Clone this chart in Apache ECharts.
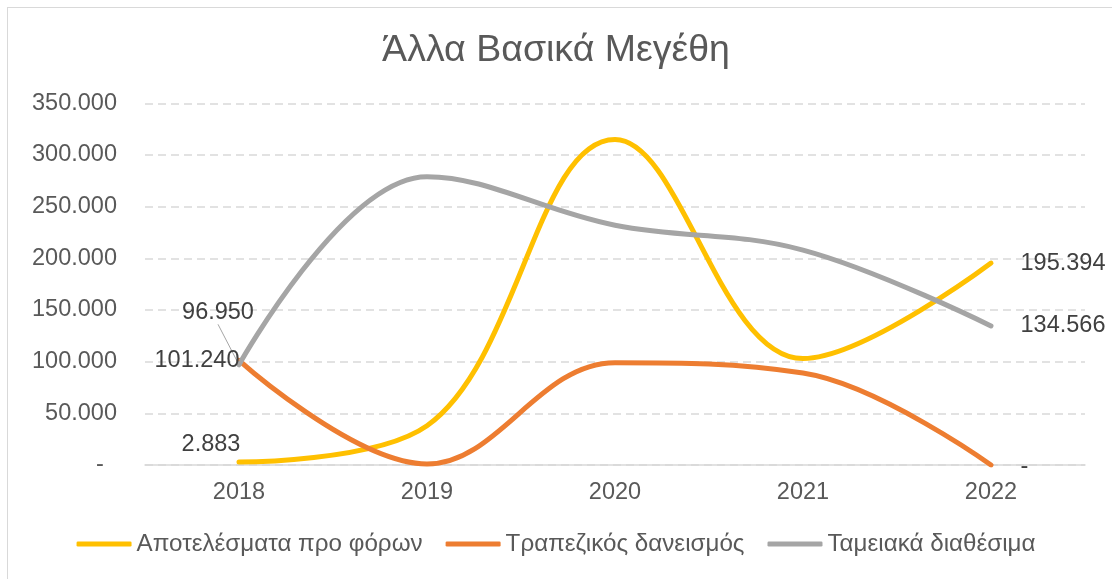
<!DOCTYPE html>
<html>
<head>
<meta charset="utf-8">
<script src="https://cdn.jsdelivr.net/npm/echarts@6/dist/echarts.min.js"></script>
<style>
html,body{margin:0;padding:0;background:#fff;overflow:hidden;}
#frame{position:absolute;left:7px;top:7px;width:1300px;height:800px;border:1.5px solid #d9d9d9;box-sizing:border-box;}
#chart{position:absolute;left:0;top:0;width:1112px;height:579px;}
</style>
</head>
<body>
<div id="frame"></div>
<div id="chart"></div>
<script>
// values
var years = ['2018','2019','2020','2021','2022'];
var results = [2883, 38000, 315000, 103000, 195394];   // Αποτελέσματα προ φόρων
var loans = [101240, 1000, 99000, 89000, 0];           // Τραπεζικός δανεισμός
var cash = [96950, 279000, 232000, 208000, 134566];    // Ταμειακά διαθέσιμα
var seriesNames = ['Αποτελέσματα προ φόρων','Τραπεζικός δανεισμός','Ταμειακά διαθέσιμα'];
var colors = ['#FFC000','#ED7D31','#A5A5A5'];

var FONT = '"Liberation Sans", Arial, sans-serif';
var SMOOTH = 0.38;

function fmt(v){
    if(v===0) return '-';
    return String(Math.round(v)).replace(/\B(?=(\d{3})+(?!\d))/g,'.');
}

// only first and last points carry a label
function withLabels(arr, firstLabel, lastLabel, firstLine){
    return arr.map(function(v,i){
        if(i===0){
            var d = {value:v, label:firstLabel};
            if(firstLine) d.labelLine = {show:true, lineStyle:{color:'#a5a5a5', width:1}};
            return d;
        }
        if(i===arr.length-1) return {value:v, label:lastLabel};
        return {value:v, label:{show:false}};
    });
}

var lastLbl = {show:true, position:'right', distance:29};

var chart = echarts.init(document.getElementById('chart'), null, {renderer:'canvas'});
var option = {
    backgroundColor:'transparent',
    color:colors,
    animation:false,
    textStyle:{fontFamily:FONT},
    title:{
        text:'Άλλα Βασικά Μεγέθη',
        left:'center',
        top:27,
        textStyle:{color:'#595959', fontSize:37.5, fontWeight:'normal', fontFamily:FONT}
    },
    grid:{left:145, right:27, top:103.3, bottom:114, containLabel:false},
    legend:{
        bottom:18,
        left:'center',
        icon:'roundRect',
        itemWidth:55,
        itemHeight:5,
        itemGap:23,
        textStyle:{color:'#595959', fontSize:24.2, fontFamily:FONT},
        data:seriesNames
    },
    xAxis:{
        type:'category',
        data:years,
        boundaryGap:true,
        axisLine:{show:true, lineStyle:{color:'#d9d9d9', width:1.5}},
        axisTick:{show:false},
        axisLabel:{color:'#595959', fontSize:23.5, margin:16, fontFamily:FONT}
    },
    yAxis:{
        type:'value',
        min:0,
        max:350000,
        interval:50000,
        axisLine:{show:false},
        axisTick:{show:false},
        axisLabel:{
            color:'#595959', fontSize:23.5, margin:28, fontFamily:FONT,
            formatter:function(v){ return v===0 ? '-  ' : fmt(v); }
        },
        splitLine:{show:true, lineStyle:{color:'#d9d9d9', width:1.5, type:[8,5]}}
    },
    series:[
        {
            name:seriesNames[0], type:'line', smooth:SMOOTH,
            symbol:'circle', symbolSize:1, showSymbol:true,
            lineStyle:{width:5, color:colors[0], cap:'round'},
            itemStyle:{color:colors[0]},
            label:{color:'#404040', fontSize:23.5, fontFamily:FONT, formatter:function(p){return fmt(p.value);}},
            data:withLabels(results,
                {show:true, position:'top', distance:5, offset:[-28,0]},
                lastLbl)
        },
        {
            name:seriesNames[1], type:'line', smooth:SMOOTH,
            symbol:'circle', symbolSize:1, showSymbol:true,
            lineStyle:{width:5, color:colors[1], cap:'round'},
            itemStyle:{color:colors[1]},
            label:{color:'#404040', fontSize:23.5, fontFamily:FONT, formatter:function(p){return fmt(p.value);}},
            data:withLabels(loans,
                {show:true, position:'left', distance:-1},
                {show:true, position:'right', distance:29, offset:[0,2]})
        },
        {
            name:seriesNames[2], type:'line', smooth:SMOOTH,
            symbol:'circle', symbolSize:1, showSymbol:true,
            lineStyle:{width:5, color:colors[2], cap:'round'},
            itemStyle:{color:colors[2]},
            label:{color:'#404040', fontSize:23.5, fontFamily:FONT, formatter:function(p){return fmt(p.value);}},
            labelLayout:function(params){
                if(params.dataIndex===0) return {dx:-21, dy:-35};
                return {};
            },
            data:withLabels(cash,
                {show:true, position:'top', distance:5},
                lastLbl, true)
        }
    ]
};
chart.setOption(option);
</script>
</body>
</html>
